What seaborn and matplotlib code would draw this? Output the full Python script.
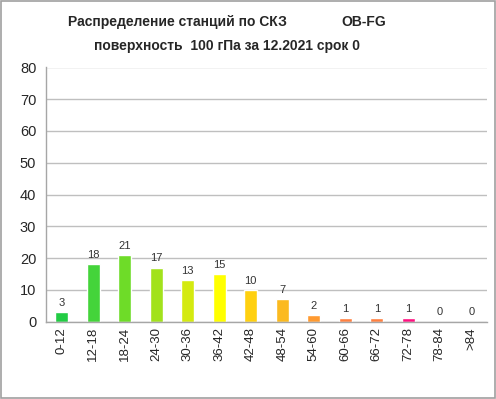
import matplotlib
matplotlib.use('Agg')
import matplotlib.pyplot as plt
import seaborn as sns
import pandas as pd
from matplotlib.patches import Rectangle
from matplotlib.ticker import MultipleLocator, FixedLocator

# Data
categories = ['0-12', '12-18', '18-24', '24-30', '30-36', '36-42', '42-48',
              '48-54', '54-60', '60-66', '66-72', '72-78', '78-84', '>84']
counts = [3, 18, 21, 17, 13, 15, 10, 7, 2, 1, 1, 1, 0, 0]
bar_colors = ['#22CC44', '#44D43A', '#6EDC28', '#A2E21C', '#D4EA10', '#FFFF00',
              '#FFD010', '#FBBA20', '#FF9A30', '#FF8040', '#FF8040', '#FF1080',
              '#FF1080', '#FF1080']

df = pd.DataFrame({'cat': categories, 'n': counts})

sns.set_style('white')
plt.rcParams['font.family'] = ['Liberation Sans', 'DejaVu Sans']

fig = plt.figure(figsize=(4.96, 3.99), dpi=100)
ax = fig.add_axes([46 / 496, 1 - 321.5 / 399, 441 / 496, 254 / 399])

sns.barplot(data=df, x='cat', y='n', hue='cat', palette=bar_colors,
            legend=False, width=0.4, saturation=1, ax=ax)

for cont in ax.containers:
    ax.bar_label(cont, padding=3, fontsize=8, color='#333333')

ax.set_ylim(0, 80)
ax.set_xlim(-0.5, len(categories) - 0.5)
ax.yaxis.set_major_locator(MultipleLocator(10))
ax.grid(axis='y', color='#BFBFBF', linewidth=1)
ax.set_axisbelow(True)
ax.set_xlabel('')
ax.set_ylabel('')

for side in ['top', 'right']:
    ax.spines[side].set_visible(False)
for side in ['left', 'bottom']:
    ax.spines[side].set_color('#A6A6A6')
    ax.spines[side].set_linewidth(1)

ax.tick_params(axis='x', which='major', length=0, labelsize=9.5, rotation=90, pad=4)
ax.xaxis.set_minor_locator(FixedLocator([i - 0.5 for i in range(len(categories) + 1)]))
ax.tick_params(axis='x', which='minor', length=4, color='#A6A6A6', direction='out')
ax.tick_params(axis='y', length=4, color='#A6A6A6', labelsize=10.5, direction='out', pad=3)

fig.text(177 / 496, 1 - 22 / 399, 'Распределение станций по СКЗ', ha='center', va='center',
         fontsize=10, fontweight='bold')
fig.text(364 / 496, 1 - 22 / 399, 'OB-FG', ha='center', va='center',
         fontsize=10, fontweight='bold')
fig.text(227 / 496, 1 - 46 / 399, 'поверхность  100 гПа за 12.2021 срок 0', ha='center',
         va='center', fontsize=10, fontweight='bold')

fig.patches.append(Rectangle((0.002, 0.003), 0.995, 0.994, transform=fig.transFigure,
                             fill=False, edgecolor='#A0A0A0', linewidth=1.2))

fig.savefig('out.png', dpi=100)
